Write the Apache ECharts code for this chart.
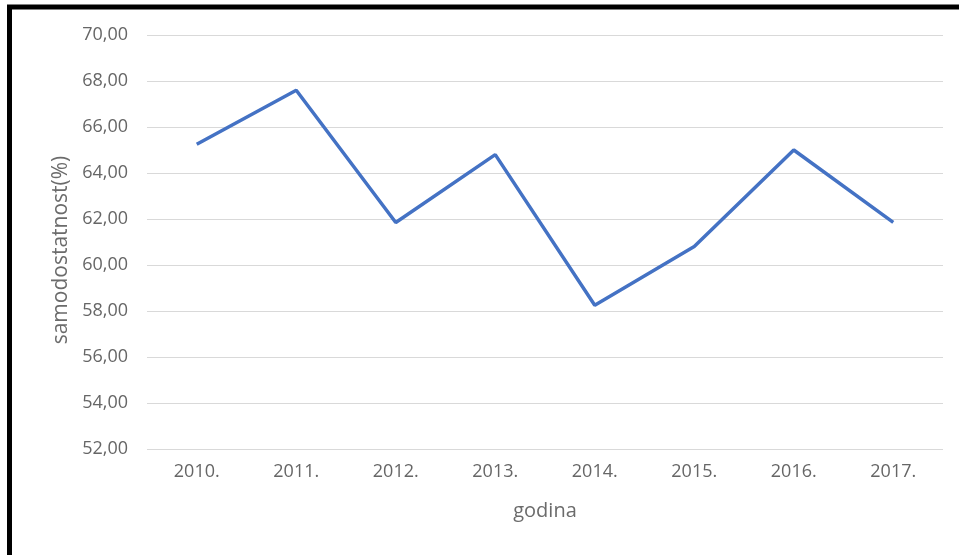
<!DOCTYPE html>
<html><head><meta charset="utf-8">
<script src="https://cdn.jsdelivr.net/npm/echarts@6/dist/echarts.min.js"></script>
<style>html,body{margin:0;padding:0;background:#fff}#c{width:959px;height:555px}</style>
</head><body><div id="c"></div>
<script>
const categories = ['2010.', '2011.', '2012.', '2013.', '2014.', '2015.', '2016.', '2017.'];
const values = [65.25, 67.6, 61.85, 64.8, 58.25, 60.8, 65.0, 61.85];
const yTitle = 'samodostatnost(%)';
const xTitle = 'godina';

const chart = echarts.init(document.getElementById('c'));
const font = '"Open Sans", sans-serif';
chart.setOption({
  animation: false,
  backgroundColor: '#fff',
  graphic: [{
    type: 'rect', shape: {x: 9.5, y: 7, width: 1100, height: 700},
    style: {fill: 'none', stroke: '#000', lineWidth: 5}, silent: true
  }],
  grid: {left: 147, right: 16, top: 35, bottom: 106},
  xAxis: {
    type: 'category', data: categories, boundaryGap: true,
    name: xTitle, nameLocation: 'middle', nameGap: 52,
    nameTextStyle: {color: '#6b6b6b', fontSize: 20, fontFamily: font},
    axisLine: {show: false}, axisTick: {show: false},
    axisLabel: {color: '#666666', fontSize: 18, fontFamily: font, margin: 14}
  },
  yAxis: {
    type: 'value', min: 52, max: 70, interval: 2,
    name: yTitle, nameLocation: 'middle', nameGap: 74,
    nameTextStyle: {color: '#6b6b6b', fontSize: 21, fontFamily: font, padding: [0, 16, 0, 0]},
    axisLine: {show: false}, axisTick: {show: false},
    splitLine: {lineStyle: {color: '#d9d9d9', width: 1}},
    axisLabel: {color: '#666666', fontSize: 18, fontFamily: font, margin: 19,
      formatter: v => v.toFixed(2).replace('.', ',')}
  },
  series: [{
    type: 'line', data: values, showSymbol: false,
    lineStyle: {color: '#4472C4', width: 3.5}
  }]
});
</script></body></html>
